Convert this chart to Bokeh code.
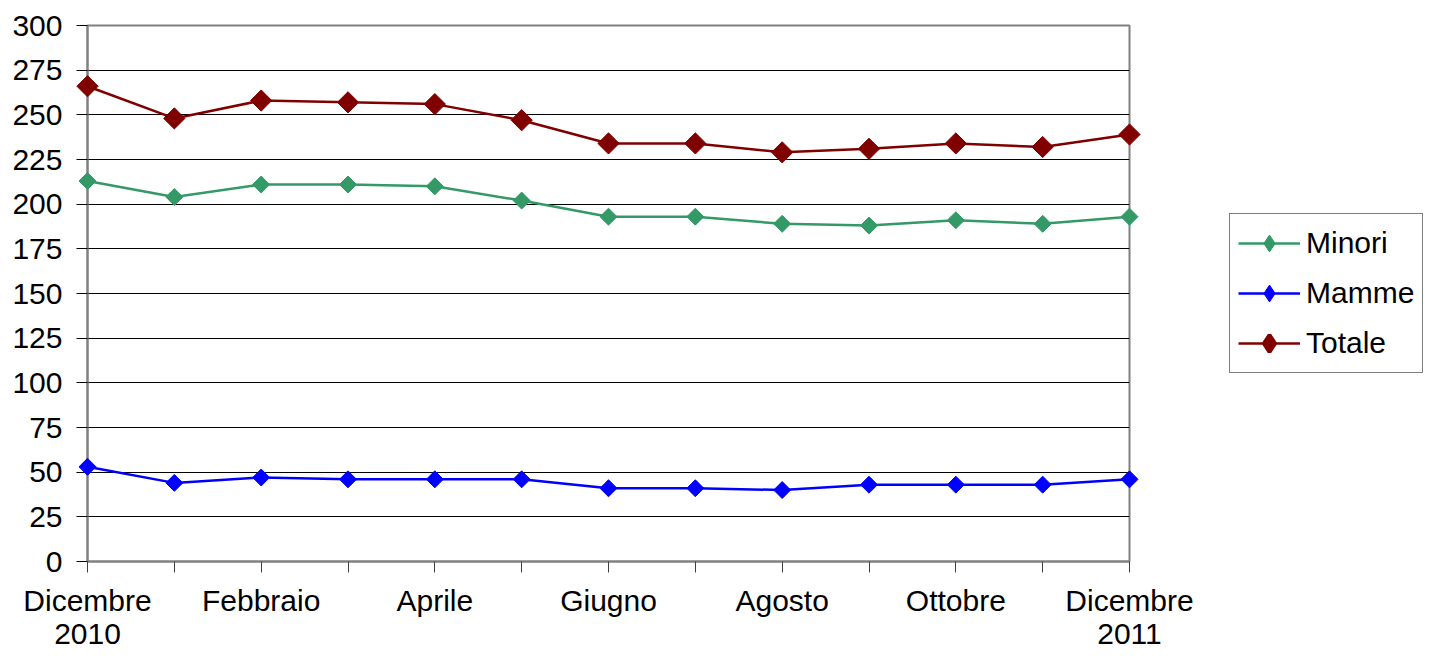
from bokeh.plotting import figure
from bokeh.models import Range1d, FixedTicker, Legend, LegendItem
from bokeh.embed import file_html
from bokeh.resources import INLINE
import math

months = ["Dicembre\n2010", "Gennaio", "Febbraio", "Marzo", "Aprile", "Maggio", "Giugno",
          "Luglio", "Agosto", "Settembre", "Ottobre", "Novembre", "Dicembre\n2011"]
shown_labels = ["Dicembre\n2010", "", "Febbraio", "", "Aprile", "", "Giugno", "",
                "Agosto", "", "Ottobre", "", "Dicembre\n2011"]
minori = [213, 204, 211, 211, 210, 202, 193, 193, 189, 188, 191, 189, 193]
mamme = [53, 44, 47, 46, 46, 46, 41, 41, 40, 43, 43, 43, 46]
totale = [266, 248, 258, 257, 256, 247, 234, 234, 229, 231, 234, 232, 239]
y_ticks = list(range(0, 301, 25))

x = list(range(len(months)))

FONT = "Liberation Sans"

p = figure(frame_width=1042, frame_height=536, output_backend="svg", toolbar_location=None,
           x_range=Range1d(0, 12), y_range=Range1d(0, 300),
           min_border_left=87, min_border_right=0, min_border_top=25, min_border_bottom=85)
p.background_fill_color = "white"
p.border_fill_color = "white"
p.outline_line_color = "#808080"
p.outline_line_width = 2

p.xgrid.grid_line_color = None
p.ygrid.grid_line_color = "#000000"
p.ygrid.grid_line_width = 1
p.ygrid.ticker = FixedTicker(ticks=y_ticks)

p.yaxis.ticker = FixedTicker(ticks=y_ticks)
p.yaxis.axis_line_color = "#808080"
p.yaxis.axis_line_width = 2
p.yaxis.major_tick_line_color = "#000000"
p.yaxis.major_tick_out = 11
p.yaxis.major_tick_in = 0
p.yaxis.minor_tick_line_color = None
p.yaxis.major_label_standoff = 14
p.yaxis.major_label_text_font = FONT
p.yaxis.major_label_text_font_size = "30px"
p.yaxis.major_label_text_color = "#000000"

p.xaxis.ticker = FixedTicker(ticks=x)
p.xaxis.major_label_overrides = {i: lab for i, lab in enumerate(shown_labels)}
p.xaxis.axis_line_color = "#808080"
p.xaxis.axis_line_width = 2
p.xaxis.major_tick_line_color = "#404040"
p.xaxis.major_tick_out = 11
p.xaxis.major_tick_in = 0
p.xaxis.minor_tick_line_color = None
p.xaxis.major_label_standoff = 11
p.xaxis.major_label_text_font = FONT
p.xaxis.major_label_text_font_size = "30px"
p.xaxis.major_label_text_color = "#000000"
p.xaxis.major_label_text_line_height = 1.0

series = [
    ("Minori", minori, "#339966", 12, 1),
    ("Mamme", mamme, "#0000FF", 12, 1),
    ("Totale", totale, "#800000", 15, 4),
]

items = []
for name, vals, color, msize, lwidth in series:
    l = p.line(x, vals, line_color=color, line_width=2.5)
    p.scatter(x, vals, marker="square", angle=math.pi / 4, size=msize,
              fill_color=color, line_color=color, level="overlay")
    # legend-only diamond (hidden in the plot area)
    d = p.scatter(x, vals, marker="diamond", size=msize, line_width=lwidth,
                  fill_color=color, line_color=color, visible=False)
    items.append(LegendItem(label=name, renderers=[l, d]))

legend = Legend(items=items, location=(100, 188))
legend.label_text_font = FONT
legend.label_text_font_size = "30px"
legend.label_text_color = "#000000"
legend.glyph_width = 62
legend.glyph_height = 42
legend.label_height = 42
legend.spacing = 8
legend.padding = 8
legend.margin = 0
legend.label_standoff = 6
legend.border_line_color = "#000000"
legend.border_line_width = 1
legend.background_fill_color = "white"
legend.background_fill_alpha = 1
p.add_layout(legend, "right")

open("out.html", "w").write(file_html(p, INLINE))
